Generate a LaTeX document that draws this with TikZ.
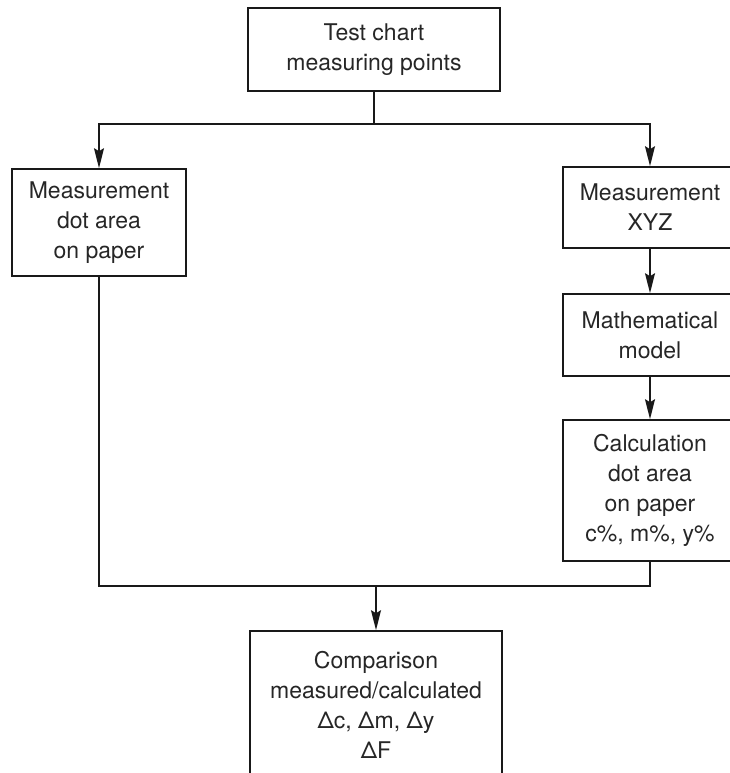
\documentclass[tikz,border=0pt]{standalone}
\usepackage{fontspec}
\setmainfont{TeX Gyre Heros}
\usetikzlibrary{arrows.meta}
\begin{document}
\begin{tikzpicture}[x=1pt,y=-1pt,
  box/.style={draw=black!90, line width=1.6pt, align=center, inner sep=0pt,
    font=\fontsize{23}{30}\selectfont, text=black!85},
  conn/.style={line width=1.6pt, draw=black!90},
  arr/.style={conn,-{Stealth[length=20pt,width=10pt,inset=3pt]}}]
\useasboundingbox (0,0) rectangle (730,773);
\clip (0,0) rectangle (730,773);
\node[box, minimum width=252pt, minimum height=83pt] (top) at (374,49.5) {Test chart\\measuring points};
\node[box, minimum width=174pt, minimum height=107pt] (left) at (99,222.5) {Measurement\\dot area\\on paper};
\node[box, minimum width=174pt, minimum height=81pt] (xyz) at (650,207.5) {Measurement\\XYZ};
\node[box, minimum width=174pt, minimum height=82pt] (math) at (650,335) {Mathematical\\model};
\node[box, minimum width=174pt, minimum height=141pt] (calc) at (650,490.5) {Calculation\\dot area\\on paper\\c\%, m\%, y\%};
\node[box, minimum width=252pt, minimum height=147pt] (cmp) at (376,704.5) {Comparison\\measured/calculated\\Δc, Δm, Δy\\ΔF};
\coordinate (j1) at (374,124);
\draw[conn] (top.south) -- (j1);
\draw[arr] (j1) -| (left.north);
\draw[arr] (j1) -| (xyz.north);
\draw[arr] (xyz) -- (math);
\draw[arr] (math) -- (calc);
\coordinate (j2) at (376,586);
\draw[conn] (left.south) |- (j2);
\draw[conn] (calc.south) |- (j2);
\draw[arr] (j2) -- (cmp.north);
\end{tikzpicture}
\end{document}
